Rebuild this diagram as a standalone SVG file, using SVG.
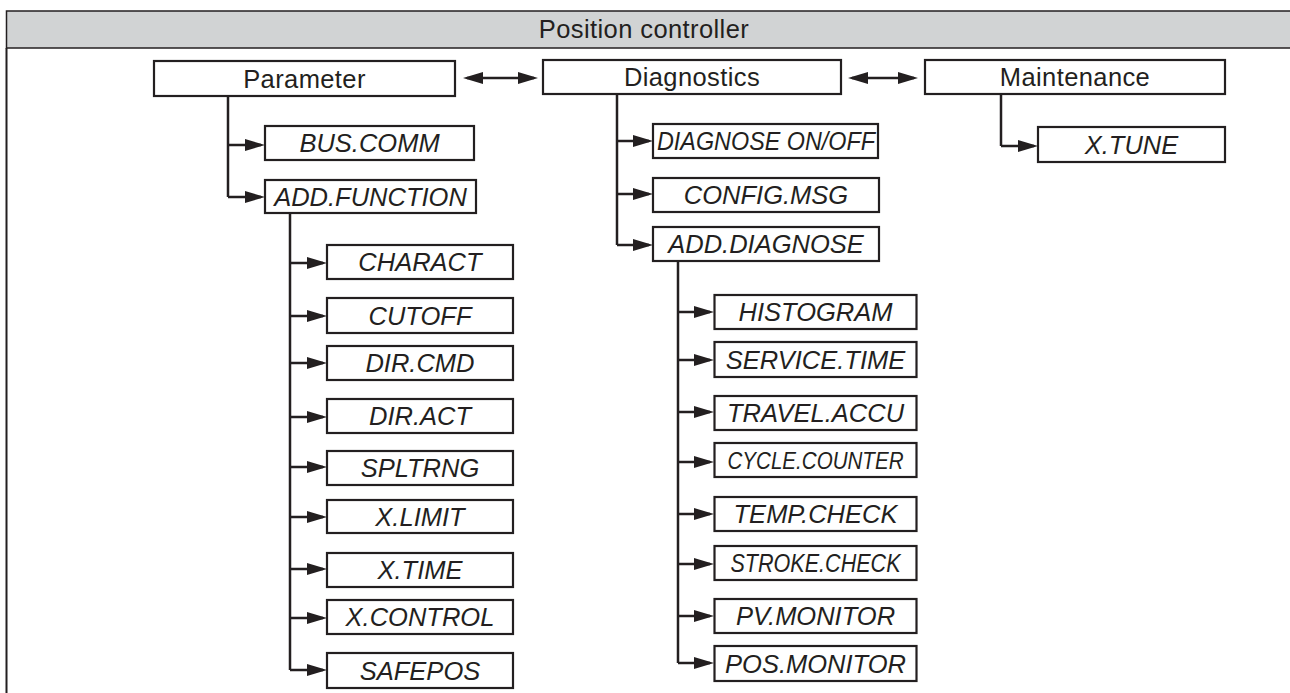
<svg xmlns="http://www.w3.org/2000/svg" width="1290" height="693" viewBox="0 0 1290 693">
<style>
.bg{fill:#ffffff}
.hdr{fill:#d1d3d4;stroke:#231f20;stroke-width:1.5}
.frame{fill:none;stroke:#231f20;stroke-width:2}
.box{fill:#ffffff;stroke:#231f20;stroke-width:2.2}
.t{font-family:"Liberation Sans",Arial,Helvetica,sans-serif;font-size:25.5px;fill:#231f20;text-anchor:middle;letter-spacing:0.4px}
.i{font-family:"Liberation Sans",Arial,Helvetica,sans-serif;font-size:25.5px;font-style:italic;fill:#231f20;text-anchor:middle}
.c{fill:none;stroke:#231f20;stroke-width:2.5}
.a{marker-end:url(#ah)}
.d{marker-start:url(#ah);marker-end:url(#ah)}
</style>
<defs>
<marker id="ah" viewBox="0 0 20 12" refX="16" refY="6" markerWidth="20" markerHeight="12" markerUnits="userSpaceOnUse" orient="auto-start-reverse">
<path d="M0,0 L20,6 L0,12 z" fill="#231f20"/>
</marker>
</defs>
<rect class="bg" x="0" y="0" width="1290" height="693"/>
<g id="frame">
<rect class="hdr" x="6.5" y="11" width="1290" height="37"/>
<line class="frame" x1="6.5" y1="48" x2="6.5" y2="693"/>
<text class="t" x="644" y="37.5">Position controller</text>
</g>
<g id="connectors">
<path class="c d" d="M467,78 L534,78"/>
<path class="c d" d="M852,78 L914,78"/>
<path class="c" d="M228,96 L228,197"/>
<path class="c a" d="M228,145 L261,145"/>
<path class="c a" d="M228,197 L261,197"/>
<path class="c" d="M290,213 L290,670"/>
<path class="c a" d="M290,263 L323,263"/>
<path class="c a" d="M290,316 L323,316"/>
<path class="c a" d="M290,363 L323,363"/>
<path class="c a" d="M290,417 L323,417"/>
<path class="c a" d="M290,467 L323,467"/>
<path class="c a" d="M290,517 L323,517"/>
<path class="c a" d="M290,569 L323,569"/>
<path class="c a" d="M290,618 L323,618"/>
<path class="c a" d="M290,670 L323,670"/>
<path class="c" d="M617,94 L617,245"/>
<path class="c a" d="M617,141 L649,141"/>
<path class="c a" d="M617,194 L649,194"/>
<path class="c a" d="M617,245 L649,245"/>
<path class="c" d="M678,261 L678,663"/>
<path class="c a" d="M678,312 L710,312"/>
<path class="c a" d="M678,360 L710,360"/>
<path class="c a" d="M678,412 L710,412"/>
<path class="c a" d="M678,462 L710,462"/>
<path class="c a" d="M678,514 L710,514"/>
<path class="c a" d="M678,564 L710,564"/>
<path class="c a" d="M678,616 L710,616"/>
<path class="c a" d="M678,663 L710,663"/>
<path class="c" d="M1001,94 L1001,146"/>
<path class="c a" d="M1001,146 L1034,146"/>
</g>
<g id="n-parameter"><rect class="box" x="154" y="61" width="301" height="35"/><text class="t" x="304.5" y="87.5">Parameter</text></g>
<g id="n-diagnostics"><rect class="box" x="543" y="60" width="298" height="34"/><text class="t" x="692" y="86">Diagnostics</text></g>
<g id="n-maintenance"><rect class="box" x="925" y="60" width="300" height="34"/><text class="t" x="1075" y="86">Maintenance</text></g>
<g id="n-bus-comm"><rect class="box" x="265" y="126" width="209" height="34"/><text class="i" x="369.5" y="152">BUS.COMM</text></g>
<g id="n-add-function"><rect class="box" x="265" y="180" width="211" height="33"/><text class="i" x="370.5" y="205.5">ADD.FUNCTION</text></g>
<g id="n-charact"><rect class="box" x="327" y="245" width="186" height="34"/><text class="i" x="420" y="271">CHARACT</text></g>
<g id="n-cutoff"><rect class="box" x="327" y="298" width="186" height="35"/><text class="i" x="420" y="324.5">CUTOFF</text></g>
<g id="n-dir-cmd"><rect class="box" x="327" y="346" width="186" height="34"/><text class="i" x="420" y="372">DIR.CMD</text></g>
<g id="n-dir-act"><rect class="box" x="327" y="399" width="186" height="34"/><text class="i" x="420" y="425">DIR.ACT</text></g>
<g id="n-spltrng"><rect class="box" x="327" y="451" width="186" height="34"/><text class="i" x="420" y="477">SPLTRNG</text></g>
<g id="n-x-limit"><rect class="box" x="327" y="500" width="186" height="33"/><text class="i" x="420" y="525.5">X.LIMIT</text></g>
<g id="n-x-time"><rect class="box" x="327" y="553" width="186" height="34"/><text class="i" x="420" y="579">X.TIME</text></g>
<g id="n-x-control"><rect class="box" x="327" y="600" width="186" height="34"/><text class="i" x="420" y="626">X.CONTROL</text></g>
<g id="n-safepos"><rect class="box" x="327" y="653" width="186" height="35"/><text class="i" x="420" y="679.5">SAFEPOS</text></g>
<g id="n-diagnose-onoff"><rect class="box" x="653" y="124" width="225" height="34"/><text class="i" x="766" y="150" textLength="218" lengthAdjust="spacingAndGlyphs">DIAGNOSE ON/OFF</text></g>
<g id="n-config-msg"><rect class="box" x="653" y="178" width="226" height="34"/><text class="i" x="766" y="204">CONFIG.MSG</text></g>
<g id="n-add-diagnose"><rect class="box" x="653" y="227" width="226" height="34"/><text class="i" x="766" y="253">ADD.DIAGNOSE</text></g>
<g id="n-histogram"><rect class="box" x="714.5" y="295" width="202" height="34"/><text class="i" x="815.5" y="321">HISTOGRAM</text></g>
<g id="n-service-time"><rect class="box" x="714.5" y="342" width="202" height="35"/><text class="i" x="815.5" y="368.5">SERVICE.TIME</text></g>
<g id="n-travel-accu"><rect class="box" x="714.5" y="396" width="202" height="34"/><text class="i" x="815.5" y="422">TRAVEL.ACCU</text></g>
<g id="n-cycle-counter"><rect class="box" x="714.5" y="443" width="202" height="34"/><text class="i" x="815.5" y="468.5" style="font-size:23.5px" textLength="176" lengthAdjust="spacingAndGlyphs">CYCLE.COUNTER</text></g>
<g id="n-temp-check"><rect class="box" x="714.5" y="497" width="202" height="34"/><text class="i" x="815.5" y="523">TEMP.CHECK</text></g>
<g id="n-stroke-check"><rect class="box" x="714.5" y="546" width="202" height="34"/><text class="i" x="815.5" y="572" textLength="170" lengthAdjust="spacingAndGlyphs">STROKE.CHECK</text></g>
<g id="n-pv-monitor"><rect class="box" x="714.5" y="599" width="202" height="34"/><text class="i" x="815.5" y="625">PV.MONITOR</text></g>
<g id="n-pos-monitor"><rect class="box" x="714.5" y="646" width="202" height="35"/><text class="i" x="815.5" y="672.5">POS.MONITOR</text></g>
<g id="n-x-tune"><rect class="box" x="1038" y="127" width="187" height="35"/><text class="i" x="1131.5" y="153.5">X.TUNE</text></g>
</svg>
